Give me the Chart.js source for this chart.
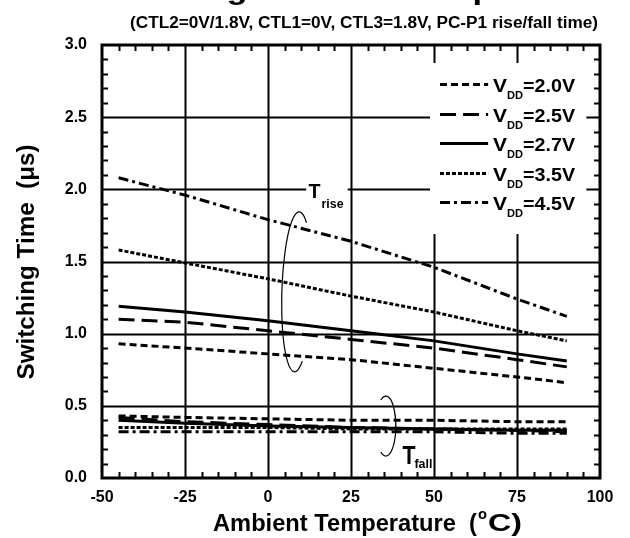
<!DOCTYPE html>
<html><head><meta charset="utf-8">
<style>html,body{margin:0;padding:0;background:#fff}</style>
<script src="https://cdn.jsdelivr.net/npm/chart.js@4/dist/chart.umd.min.js"></script>
</head><body>
<canvas id="c" width="630" height="538"></canvas>
<script>
// ---- data ----
const temps = [-45, -25, 0, 25, 50, 75, 90];
const vddLabels = ['2.0V', '2.5V', '2.7V', '3.5V', '4.5V'];
// rise times (us)
const rise20 = [0.93, 0.90, 0.86, 0.82, 0.76, 0.70, 0.66];
const rise25 = [1.10, 1.08, 1.02, 0.96, 0.90, 0.82, 0.77];
const rise27 = [1.19, 1.15, 1.09, 1.02, 0.95, 0.86, 0.81];
const rise35 = [1.58, 1.49, 1.38, 1.26, 1.15, 1.02, 0.95];
const rise45 = [2.08, 1.96, 1.79, 1.64, 1.46, 1.24, 1.12];
// fall times (us)
const fall20 = [0.43, 0.42, 0.41, 0.40, 0.40, 0.39, 0.39];
const fall25 = [0.42, 0.39, 0.37, 0.35, 0.34, 0.33, 0.32];
const fall27 = [0.40, 0.38, 0.36, 0.35, 0.34, 0.33, 0.33];
const fall35 = [0.35, 0.35, 0.35, 0.34, 0.34, 0.34, 0.34];
const fall45 = [0.32, 0.32, 0.32, 0.32, 0.32, 0.31, 0.31];

const titleText = 'Switching Time vs. Temperature';
const subtitleText = '(CTL2=0V/1.8V, CTL1=0V, CTL3=1.8V, PC-P1 rise/fall time)';
const xTitle = 'Ambient Temperature  (';
const yTitle = 'Switching Time  (\u03bcs)';

const F = '"Liberation Sans", Arial, sans-serif';
const dashes = [[7, 4], [16, 7], [], [4, 2], [10, 4, 3, 4]];

const riseSets = [rise20, rise25, rise27, rise35, rise45];
const fallSets = [fall20, fall25, fall27, fall35, fall45];
const datasets = [];
riseSets.forEach((s, i) => datasets.push(mk('Trise VDD=' + vddLabels[i], s, i)));
fallSets.forEach((s, i) => datasets.push(mk('Tfall VDD=' + vddLabels[i], s, i)));
function mk(label, arr, i) {
  return {
    label, data: arr.map((v, k) => ({x: temps[k], y: v})),
    borderColor: '#000', borderWidth: 3, borderDash: dashes[i],
    pointRadius: 0, fill: false, tension: 0
  };
}

// draw text horizontally stretched so that it spans `width` pixels
function stretched(ctx, text, font, x, y, align, width) {
  ctx.save();
  ctx.font = font;
  const w = ctx.measureText(text).width;
  const s = width / w;
  let x0 = align === 'center' ? x - width / 2 : (align === 'right' ? x - width : x);
  ctx.translate(x0, y); ctx.scale(s, 1);
  ctx.textAlign = 'left';
  ctx.fillText(text, 0, 0);
  ctx.restore();
}

const deco = {
  id: 'deco',
  beforeDatasetsDraw(chart) {
    const {ctx, chartArea: a, scales: {x, y}} = chart;
    ctx.save();
    ctx.strokeStyle = '#000'; ctx.lineWidth = 2;
    ctx.beginPath();
    for (let v = -25; v < 100; v += 25) {
      const p = Math.round(x.getPixelForValue(v)) + 0.5;
      ctx.moveTo(p, a.top); ctx.lineTo(p, a.bottom);
    }
    for (let v = 0.5; v < 3; v += 0.5) {
      const p = Math.round(y.getPixelForValue(v)) + 0.5;
      ctx.moveTo(a.left, p); ctx.lineTo(a.right, p);
    }
    ctx.stroke();
    // white backgrounds behind legend and T_rise label
    ctx.fillStyle = '#fff';
    const bx0 = x.getPixelForValue(48.8), bx1 = x.getPixelForValue(95.9);
    const by0 = y.getPixelForValue(2.875), by1 = y.getPixelForValue(1.69);
    ctx.fillRect(bx0, by0, bx1 - bx0, by1 - by0);
    const tx0 = x.getPixelForValue(11.5), tx1 = x.getPixelForValue(24);
    const ty0 = y.getPixelForValue(2.08), ty1 = y.getPixelForValue(1.9);
    ctx.fillRect(tx0, ty0, tx1 - tx0, ty1 - ty0);
    ctx.restore();
  },
  afterDraw(chart) {
    const {ctx, chartArea: a, scales: {x, y}} = chart;
    ctx.save();
    ctx.strokeStyle = '#000'; ctx.fillStyle = '#000';
    ctx.textBaseline = 'alphabetic';
    // minor ticks (inward, all four sides)
    ctx.lineWidth = 2;
    ctx.beginPath();
    for (let v = -45; v < 100; v += 5) {
      if (v % 25 === 0) continue;
      const p = Math.round(x.getPixelForValue(v)) + 0.5;
      ctx.moveTo(p, a.bottom); ctx.lineTo(p, a.bottom - 6);
      ctx.moveTo(p, a.top); ctx.lineTo(p, a.top + 6);
    }
    for (let k = 1; k < 30; k++) {
      if (k % 5 === 0) continue;
      const p = Math.round(y.getPixelForValue(k / 10)) + 0.5;
      ctx.moveTo(a.left, p); ctx.lineTo(a.left + 6, p);
      ctx.moveTo(a.right, p); ctx.lineTo(a.right - 6, p);
    }
    ctx.stroke();
    // frame
    ctx.lineWidth = 3;
    ctx.strokeRect(a.left, a.top, a.right - a.left, a.bottom - a.top);

    // legend
    const rowVals = [2.73, 2.525, 2.32, 2.115, 1.91];
    const lx0 = x.getPixelForValue(51.8), lx1 = x.getPixelForValue(66.3);
    const tx = x.getPixelForValue(67.8);
    rowVals.forEach((rv, i) => {
      const py = Math.round(y.getPixelForValue(rv)) + 0.5;
      ctx.lineWidth = 3; ctx.setLineDash(dashes[i]);
      ctx.beginPath(); ctx.moveTo(lx0, py); ctx.lineTo(lx1, py); ctx.stroke();
      ctx.setLineDash([]);
      const base = py + 7;
      stretched(ctx, 'V', 'bold 18px ' + F, tx, base, 'left', 14);
      stretched(ctx, 'DD', 'bold 11px ' + F, tx + 14, base + 7, 'left', 16);
      stretched(ctx, '=' + vddLabels[i], 'bold 18px ' + F, tx + 30, base, 'left', 52);
    });

    // T_rise annotation
    let px = x.getPixelForValue(12.2), py = y.getPixelForValue(1.94);
    stretched(ctx, 'T', 'bold 20px ' + F, px, py, 'left', 12);
    stretched(ctx, 'rise', 'bold 12px ' + F, px + 13, py + 10, 'left', 22);
    ctx.lineWidth = 1.2;
    ctx.beginPath();
    ctx.ellipse(x.getPixelForValue(8.7), y.getPixelForValue(1.29), 15, 80, 0.03, -Math.PI / 3, Math.PI / 3, true);
    ctx.stroke();
    // T_fall annotation
    px = x.getPixelForValue(40.5); py = y.getPixelForValue(0.1);
    stretched(ctx, 'T', 'bold 25px ' + F, px, py, 'left', 13);
    stretched(ctx, 'fall', 'bold 12px ' + F, px + 12, py + 4, 'left', 18);
    ctx.beginPath();
    ctx.ellipse(x.getPixelForValue(35.5), y.getPixelForValue(0.36), 10, 30, 0, -2 * Math.PI / 3, 2 * Math.PI / 3, false);
    ctx.stroke();

    // main title (clipped at top of the page): place so 'g' and 'p' land where the reference shows them
    {
      const font = 'bold 28px ' + F;
      ctx.font = font;
      const iG = titleText.indexOf('g'), iP = titleText.indexOf('p');
      const cG = ctx.measureText(titleText.slice(0, iG)).width + ctx.measureText('g').width / 2;
      const cP = ctx.measureText(titleText.slice(0, iP)).width + ctx.measureText('p').width / 2;
      const s = (483 - 237) / (cP - cG);
      const full = ctx.measureText(titleText).width * s;
      const x0 = 237 - cG * s;
      stretched(ctx, titleText, font, x0, -1, 'left', full);
    }
    stretched(ctx, subtitleText, 'bold 16px ' + F, 364, 28, 'center', 468);

    // x axis title with superscript
    stretched(ctx, xTitle, 'bold 23px ' + F, 213, 531, 'left', 264);
    stretched(ctx, 'o', 'bold 14px ' + F, 478, 519, 'left', 9);
    stretched(ctx, 'C)', 'bold 23px ' + F, 488, 531, 'left', 34);
    // y axis title
    ctx.save();
    ctx.translate(34, 262); ctx.rotate(-Math.PI / 2);
    stretched(ctx, yTitle, 'bold 23px ' + F, 0, 0, 'center', 235);
    ctx.restore();
    ctx.restore();
  }
};

new Chart(document.getElementById('c'), {
  type: 'line',
  data: {datasets},
  options: {
    responsive: false, animation: false,
    layout: {padding: {top: 45, right: 30, left: 0, bottom: 0}},
    plugins: {legend: {display: false}, tooltip: {enabled: false}, title: {display: false}},
    scales: {
      x: {
        type: 'linear', min: -50, max: 100,
        grid: {display: false, drawTicks: false}, border: {display: false},
        ticks: {stepSize: 25, color: '#000', padding: 10, maxRotation: 0, autoSkip: false,
                font: {family: F, size: 16, weight: 'bold'}},
        afterFit(s) { s.height = 60; }
      },
      y: {
        type: 'linear', min: 0, max: 3,
        grid: {display: false, drawTicks: false}, border: {display: false},
        ticks: {stepSize: 0.5, color: '#000', padding: 15, callback: v => v.toFixed(1),
                font: {family: F, size: 16, weight: 'bold'}},
        afterFit(s) { s.width = 102; }
      }
    }
  },
  plugins: [deco]
});
</script>
</body></html>
